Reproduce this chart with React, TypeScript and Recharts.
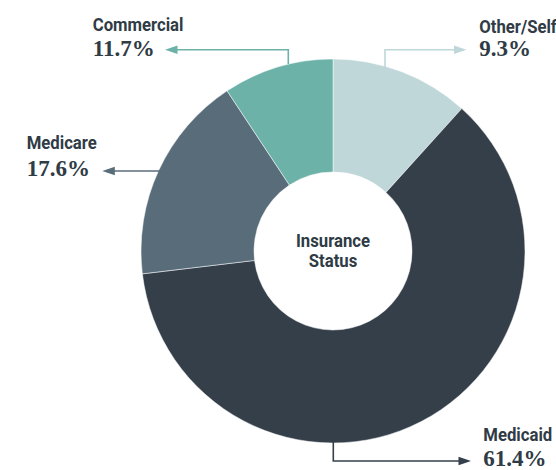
import React from "react";
import { PieChart, Pie, Cell } from "recharts";

const categories = ["Other/Self", "Medicaid", "Medicare", "Commercial"];
const sliceValues = [11.7, 61.4, 17.6, 9.3];
const labelValues = ["9.3%", "61.4%", "17.6%", "11.7%"];
const colors = ["#BFD7D9", "#343F4A", "#586C7A", "#6CB2A9"];

const data = categories.map((name, i) => ({ name, value: sliceValues[i] }));

const TEXT = "#2F3B45";
const LABEL_FONT = "Roboto, 'DejaVu Sans Condensed', sans-serif";
const NUM_FONT = "'Liberation Serif', 'DejaVu Serif', serif";
const SQUEEZE = 0.88;

// label text position + connector path (line ends at arrowhead base)
const layout = [
  { x: 479.3, path: "M385,67 V49.7 H455", tip: [466.5, 49.7], dir: 1, nameY: 33, numY: 56 },
  { x: 483.3, path: "M333.3,440 V461 H460", tip: [471, 461], dir: 1, nameY: 441, numY: 466 },
  { x: 26.7, path: "M185,171 H113", tip: [102.3, 171], dir: -1, nameY: 149.3, numY: 175.5 },
  { x: 92.7, path: "M288.3,64 V49.7 H176", tip: [165, 49.7], dir: -1, nameY: 30.7, numY: 56 },
];

const CondText = ({ x, y, children, anchor = "start" }: { x: number; y: number; children: React.ReactNode; anchor?: string }) => (
  <text
    transform={`translate(${x},${y}) scale(${SQUEEZE},1)`}
    textAnchor={anchor}
    fill={TEXT}
    fontFamily={LABEL_FONT}
    fontWeight={700}
    fontSize={19}
  >
    {children}
  </text>
);

const renderLabel = (props: { index?: number }) => {
  const i = props.index ?? 0;
  const l = layout[i];
  const c = colors[i];
  const [tx, ty] = l.tip;
  const head = `M${tx},${ty} L${tx - l.dir * 12.5},${ty - 4.3} L${tx - l.dir * 12.5},${ty + 4.3} Z`;
  return (
    <g key={`lbl-${i}`}>
      <path d={l.path} fill="none" stroke={c} strokeWidth={1.6} />
      <path d={head} fill={c} />
      <CondText x={l.x} y={l.nameY}>{categories[i]}</CondText>
      <text x={l.x} y={l.numY} fill={TEXT} fontFamily={NUM_FONT} fontWeight={700} fontSize={23}>
        {labelValues[i]}
      </text>
    </g>
  );
};

export default function App() {
  return (
    <div style={{ position: "absolute", left: 0, top: 0, width: 556, height: 470, background: "#fff" }}>
      <PieChart width={556} height={470} margin={{ top: 0, right: 0, bottom: 0, left: 0 }}>
        <Pie
          data={data}
          dataKey="value"
          nameKey="name"
          cx={333}
          cy={251}
          innerRadius={79}
          outerRadius={192}
          startAngle={90}
          endAngle={-270}
          stroke="#ffffff"
          strokeWidth={0.5}
          label={renderLabel}
          labelLine={false}
          isAnimationActive={false}
        >
          {data.map((d, i) => (
            <Cell key={d.name} fill={colors[i]} />
          ))}
        </Pie>
        <CondText x={333} y={246.7} anchor="middle">Insurance</CondText>
        <CondText x={333} y={266.7} anchor="middle">Status</CondText>
      </PieChart>
    </div>
  );
}
